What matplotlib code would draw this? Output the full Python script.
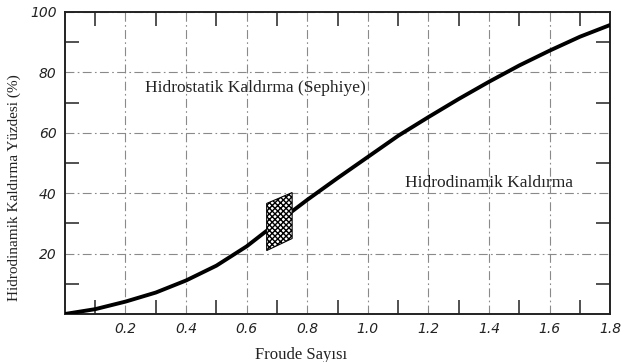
import matplotlib
matplotlib.use("Agg")
import matplotlib.pyplot as plt
from matplotlib.ticker import FixedLocator

# curve (Froude number vs % hydrodynamic lift)
froude = [0.0, 0.1, 0.2, 0.3, 0.4, 0.5, 0.6, 0.7, 0.8, 0.9,
          1.0, 1.1, 1.2, 1.3, 1.4, 1.5, 1.6, 1.7, 1.8]
lift_pct = [0.0, 1.6, 4.1, 7.1, 11.1, 16.0, 22.4, 30.2, 37.8, 45.0,
            52.0, 59.0, 65.2, 71.2, 76.9, 82.3, 87.2, 91.8, 95.7]

# hatched transition band (parallelogram corners)
band_x = [0.666, 0.666, 0.750, 0.750]
band_y = [21.0, 36.6, 40.2, 25.0]

x_labels = ["0.2", "0.4", "0.6", "0.8", "1.0", "1.2", "1.4", "1.6", "1.8"]
y_labels = ["20", "40", "60", "80", "100"]

serif = "Liberation Serif"
tick_font = {"family": "DejaVu Sans", "style": "oblique", "size": 10}

fig = plt.figure(figsize=(6.24, 3.62), dpi=100)
ax = fig.add_axes([0.104, 0.1326, 0.874, 0.8344])

ax.plot(froude, lift_pct, color="black", lw=2.8, solid_joinstyle="round", zorder=3)
ax.fill(band_x, band_y, facecolor="white", edgecolor="black", hatch="xxxxxx",
        lw=0.8, zorder=4)

ax.set_xlim(0, 1.8)
ax.set_ylim(0, 100)

ax.xaxis.set_major_locator(FixedLocator([0.2 * i for i in range(1, 10)]))
ax.yaxis.set_major_locator(FixedLocator([20, 40, 60, 80, 100]))
ax.set_xticklabels(x_labels, fontdict=tick_font)
ax.set_yticklabels(y_labels, fontdict=tick_font)
ax.xaxis.set_minor_locator(FixedLocator([0.1, 0.3, 0.5, 0.7, 0.9, 1.1, 1.3, 1.5, 1.7]))
ax.yaxis.set_minor_locator(FixedLocator([10, 30, 50, 70, 90]))

ax.tick_params(which="major", length=0, pad=6, colors="#222222")
ax.tick_params(which="minor", direction="in", length=10, width=1.2,
               top=True, right=True, color="#333333")

ax.grid(True, which="major", color="#8a8a8a", lw=0.8, linestyle=(0, (8, 3, 1.5, 3)))

for s in ax.spines.values():
    s.set_linewidth(1.4)
    s.set_color("#222222")

ax.text(0.264, 74.8, "Hidrostatik Kaldırma (Sephiye)", family=serif, fontsize=12.5,
        va="center", ha="left", color="#222222")
ax.text(1.123, 43.4, "Hidrodinamik Kaldırma", family=serif, fontsize=12.5,
        va="center", ha="left", color="#222222")

ax.set_xlabel("Froude Sayısı", family=serif, fontsize=12, color="#222222")
ax.xaxis.set_label_coords(0.433, -0.11)
ax.set_ylabel("Hidrodinamik Kaldırma Yüzdesi (%)", family=serif, fontsize=11,
              color="#222222")
ax.yaxis.set_label_coords(-0.08, 0.42)

fig.savefig("out.png", dpi=100)
